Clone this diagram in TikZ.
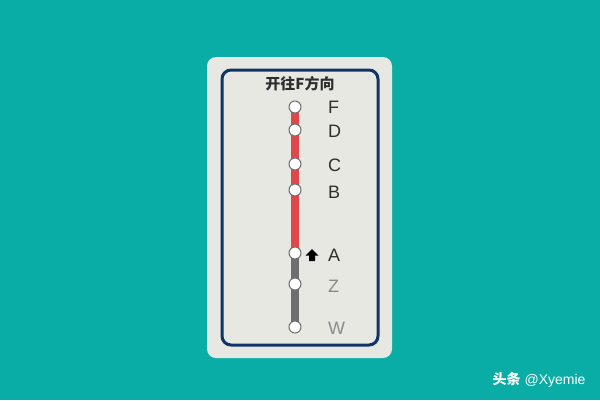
\documentclass[tikz,border=0pt]{standalone}
\usepackage{fontspec}
\setmainfont{Liberation Sans}
\newfontfamily\cjk{Noto Sans CJK SC}
\definecolor{bg}{HTML}{0AADA5}
\definecolor{card}{HTML}{E8E8E3}
\definecolor{navy}{HTML}{0F3566}
\definecolor{redline}{HTML}{E0474A}
\definecolor{grayline}{HTML}{6E6E6E}
\definecolor{darktxt}{HTML}{2E2E2E}
\definecolor{lighttxt}{HTML}{8A8A8A}
\begin{document}
\begin{tikzpicture}[x=1pt,y=-1pt,
  stn/.style={circle,draw=grayline,fill=white,line width=1pt,minimum size=12pt,inner sep=0pt},
  lbl/.style={anchor=west,font=\fontsize{18}{18}\selectfont,inner sep=0pt},
  done/.style={lbl,text=lighttxt},
  todo/.style={lbl,text=darktxt}]
\useasboundingbox (0,0) rectangle (600,400);
\fill[bg] (0,0) rectangle (600,400);
\fill[card,rounded corners=9pt] (207,57) rectangle (392,358);
\draw[navy,line width=3pt,rounded corners=9pt] (222,70) rectangle (378,345);
\node[font=\cjk\bfseries\fontsize{15}{15}\selectfont,text=darktxt] (title) at (300,84) {开往F方向};
\coordinate (pF) at (295,107);
\coordinate (pD) at (295,130);
\coordinate (pC) at (295,164);
\coordinate (pB) at (295,190);
\coordinate (pA) at (295,253);
\coordinate (pZ) at (295,284);
\coordinate (pW) at (295,327);
\draw[redline,line width=8pt] (pF) -- (pA);
\draw[grayline,line width=8pt] (pA) -- (pW);
\foreach \s in {F,D,C,B,A,Z,W} \node[stn] (s\s) at (p\s) {};
\node[todo] (lF) at (328,107) {F};
\node[todo] (lD) at (328,131) {D};
\node[todo] (lC) at (328,165) {C};
\node[todo] (lB) at (328,192) {B};
\node[todo] (lA) at (328,255) {A};
\node[done] (lZ) at (328,286) {Z};
\node[done] (lW) at (328,328) {W};
\fill[black] (312,249) -- (318.5,255.5) -- (315,255.5) -- (315,261) -- (309,261) -- (309,255.5) -- (305.5,255.5) -- cycle;
\node[text=white,font=\fontsize{14}{14}\selectfont,anchor=east] (wm) at (589,380) {{\cjk\bfseries 头条} @Xyemie};
\end{tikzpicture}
\end{document}
